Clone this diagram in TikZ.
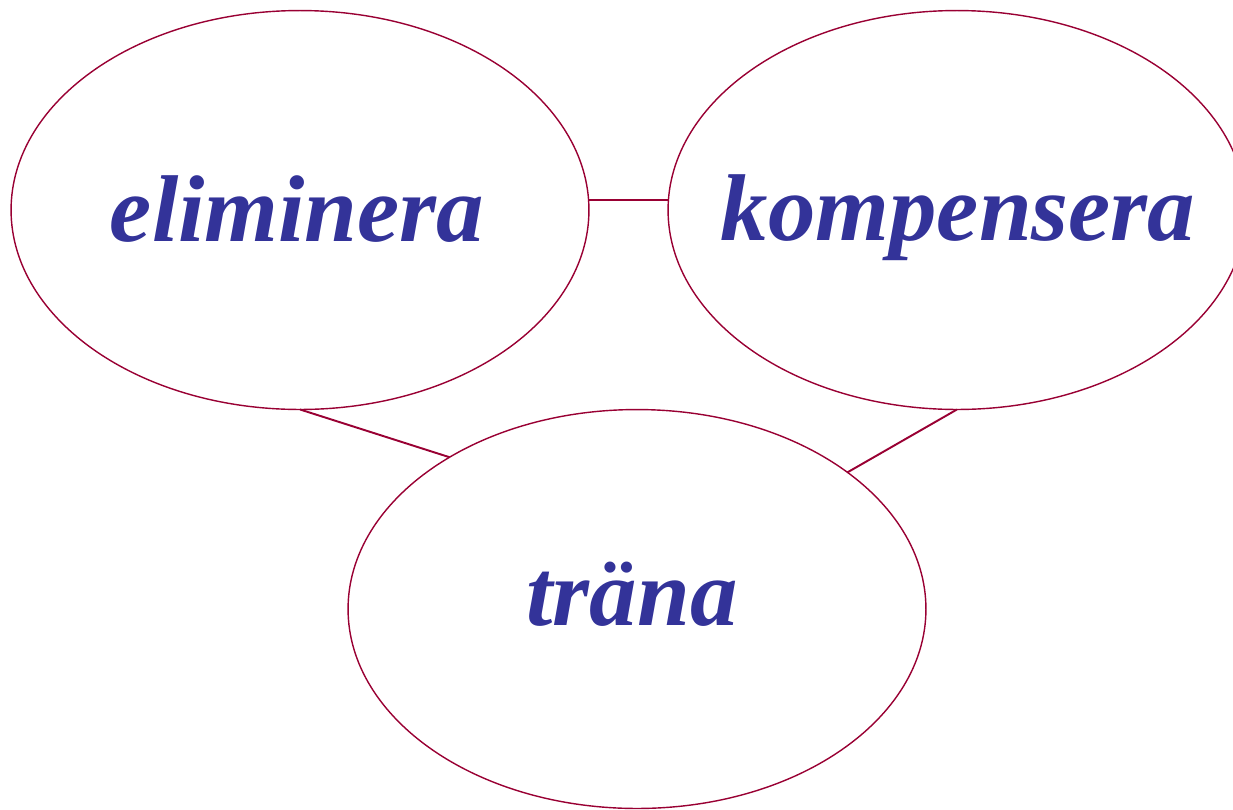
\documentclass[tikz,border=0pt]{standalone}
\usepackage{fontspec}
\setmainfont{Liberation Serif}
\usetikzlibrary{
	shapes.geometric		% Allows ellipse shaped nodes
}

\definecolor{linkred}{HTML}{990033}
\definecolor{wordblue}{HTML}{333399}

\begin{document}
\begin{tikzpicture}[
		x=0.02cm, y=-0.02cm
		, strategy/.style={
			ellipse, draw=linkred, line width=0.8pt,
			inner sep=0pt, outer sep=0pt,
			minimum width=11.56cm, minimum height=7.98cm
		}
		, word/.style={
			anchor=base, inner sep=0pt,
			text=wordblue, font=\fontsize{54}{60}\selectfont\bfseries\itshape
		}
		, link/.style={draw=linkred, line width=1.1pt}
	]
	% Fix the page size
	\useasboundingbox (0,0) rectangle (1233,809);

	% Draw the three ellipses
	\node [strategy] (eliminera) at (300,210) {};
	\node [strategy] (kompensera) at (957,210) {};
	\node [strategy] (trana) at (637,609) {};

	% Write the words on their baselines
	\node [word] (eliminera text) at (297,241) {eliminera};
	\node [word] (kompensera text) at (958,240) {kompensera};
	\node [word] (trana text) at (632,625) {träna};

	% Draw the lines between them
	\path [link] (eliminera.2.8) -- (eliminera.2.8 -| kompensera.west);
	\path [link] (eliminera.south) -- (trana.141.8);
	\path [link] (kompensera.south) -- (trana.33.1);
\end{tikzpicture}
\end{document}
